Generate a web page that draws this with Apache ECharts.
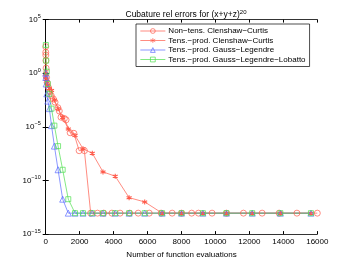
<!DOCTYPE html>
<html><head><meta charset="utf-8">
<script src="https://cdn.jsdelivr.net/npm/echarts@6/dist/echarts.min.js"></script>
<style>html,body{margin:0;padding:0;background:#fff}#c{width:350px;height:264px}</style>
</head><body><div id="c"></div>
<script>
// Series names
const seriesNames = ['Non\u2212tens. Clenshaw\u2212Curtis','Tens.\u2212prod. Clenshaw\u2212Curtis','Tens.\u2212prod. Gauss\u2212Legendre','Tens.\u2212prod. Gauss\u2212Legendre\u2212Lobatto'];
// Non-tensor Clenshaw-Curtis (sparse) : evaluations and errors
const ntccX = [1,3,7,13,25,50,90,150,250,330,450,550,720,800,900,1100,1200,1440,1660,1970,2280,2650,3050,3420,3900,4380,4950,5450,6100,6800,7450,8000,8600,9000,9800,10650,11650,12750,13750,14800,16000];
const ntccY = [3e2,9e1,5e1,1.5e1,3,4e-1,1.3e-1,5e-2,2e-2,8e-3,4e-3,2e-3,6e-4,3e-4,8e-5,6e-5,4.5e-5,2.8e-6,2.5e-6,6e-8,6e-8,9e-14,9e-14,9e-14,9e-14,9e-14,9e-14,9e-14,9e-14,9e-14,9e-14,9e-14,9e-14,9e-14,9e-14,9e-14,9e-14,9e-14,9e-14,9e-14,9e-14];
// Tensor-product rules: n^3 evaluations
const tpX = [1,8,27,64,125,216,343,512,729,1000,1331,1728,2197,2744,3375,4096,4913,5832,6859,8000,9261,10648,12167,13824,15625];
const tpccY = [1,0.5,0.28,0.16,0.08,0.04,0.025,3.2e-3,5e-4,8e-5,6.3e-6,1.6e-6,9e-8,3.5e-8,6.3e-10,2.5e-10,2.5e-12,1e-12,9e-14,9e-14,9e-14,9e-14,9e-14,9e-14,9e-14];
const glY = [1,0.4,0.1,1.2e-2,2.5e-3,5e-4,1.3e-5,1.6e-7,1e-9,1.8e-12,9e-14,9e-14,9e-14,9e-14,9e-14,9e-14,9e-14,9e-14,9e-14,9e-14,9e-14,9e-14,9e-14,9e-14,9e-14];
const gllX = [8,27,64,125,216,343,512,729,1000,1331,1728,2197,2744,3375,4096,4913,5832,6859,8000,9261,10648,12167,13824,15625];
const gllY = [4.3e2,1.5e1,1.4,0.1,1.2e-2,5e-4,1.3e-5,1.6e-7,1e-9,1.8e-12,9e-14,9e-14,9e-14,9e-14,9e-14,9e-14,9e-14,9e-14,9e-14,9e-14,9e-14,9e-14,9e-14,9e-14];
const xTicks = [0,2000,4000,6000,8000,10000,12000,14000,16000];
const yTickExps = ['5','0','\u22125','\u221210','\u221215'];

const RED='#ff5a4a', BLUE='#5a6cff', GREEN='#4ee04e';
const NOFILL='rgba(255,255,255,0)';
const FONT='Liberation Sans';
const zip=(a,b)=>a.map((v,i)=>[v,b[i]]);
const star='path://M0,-5L0,5M-4.3,-2.5L4.3,2.5M-4.3,2.5L4.3,-2.5';
const tri='path://M0,-5L5,4L-5,4Z';
const expMap={'5':0,'0':1,'-5':2,'-10':3,'-15':4};

const chart=echarts.init(document.getElementById('c'),null,{renderer:'canvas'});
const axisCommon={axisLine:{lineStyle:{color:'#000',width:0.8}},splitLine:{show:false}};
function mk(i,x,y,sym,size,col,bw){
  return {name:seriesNames[i],type:'line',data:zip(x,y),symbol:sym,symbolSize:size,
    color:col,lineStyle:{width:0.7,color:col},
    itemStyle:{color:NOFILL,borderColor:col,borderWidth:bw},
    emphasis:{disabled:true}};
}
chart.setOption({
  animation:false,
  textStyle:{fontFamily:FONT},
  title:{text:'Cubature rel errors for (x+y+z){sup|20}',left:181,textAlign:'center',top:4,
    textStyle:{fontSize:8.5,fontWeight:'normal',color:'#000',fontFamily:FONT,
      rich:{sup:{fontSize:6,fontFamily:FONT,color:'#000',padding:[0,0,6,0]}}}},
  grid:{left:45.7,right:32.7,top:19.6,bottom:29.6},
  legend:{orient:'vertical',left:136,top:24,data:seriesNames,
    backgroundColor:'#fff',borderColor:'#000',borderWidth:0.7,padding:[3,4,3,4],
    itemWidth:25,itemHeight:6,itemGap:1.5,
    itemStyle:{color:NOFILL,borderColor:'inherit',borderWidth:0.7},
    lineStyle:{width:0.7},
    textStyle:{fontSize:8,color:'#000',fontFamily:FONT,padding:[0,0,0,-2]}},
  xAxis:[
    Object.assign({type:'value',min:0,max:16000,interval:2000,position:'bottom',
      name:'Number of function evaluations',nameLocation:'middle',nameGap:16,
      nameTextStyle:{fontSize:8,color:'#000',fontFamily:FONT},
      axisTick:{inside:true,length:3,lineStyle:{color:'#000'}},
      axisLabel:{fontSize:8,color:'#000',margin:4,fontFamily:FONT,formatter:v=>xTicks.includes(v)?String(v):''}},axisCommon),
    Object.assign({type:'value',min:0,max:16000,interval:2000,position:'top',
      axisTick:{inside:true,length:3,lineStyle:{color:'#000'}},axisLabel:{show:false}},axisCommon)
  ],
  yAxis:[
    Object.assign({type:'log',logBase:10,min:1e-15,max:1e5,interval:5,position:'left',
      axisTick:{inside:true,length:3,lineStyle:{color:'#000'}},minorTick:{show:false},
      axisLabel:{fontSize:8,color:'#000',margin:5,fontFamily:FONT,
        rich:{e:{fontSize:5.5,color:'#000',fontFamily:FONT,padding:[0,0,6,0]}},
        formatter:v=>{const k=String(Math.round(Math.log10(v)));const i=expMap[k];return i===undefined?'':'10{e|'+yTickExps[i]+'}';}}},axisCommon),
    Object.assign({type:'log',logBase:10,min:1e-15,max:1e5,interval:5,position:'right',
      axisTick:{inside:true,length:3,lineStyle:{color:'#000'}},axisLabel:{show:false}},axisCommon)
  ],
  series:[
    mk(0,ntccX,ntccY,'circle',6,RED,0.7),
    mk(1,tpX,tpccY,star,5,RED,1.1),
    mk(2,tpX,glY,tri,6,BLUE,0.7),
    mk(3,gllX,gllY,'rect',5,GREEN,0.7)
  ]
});
</script></body></html>
